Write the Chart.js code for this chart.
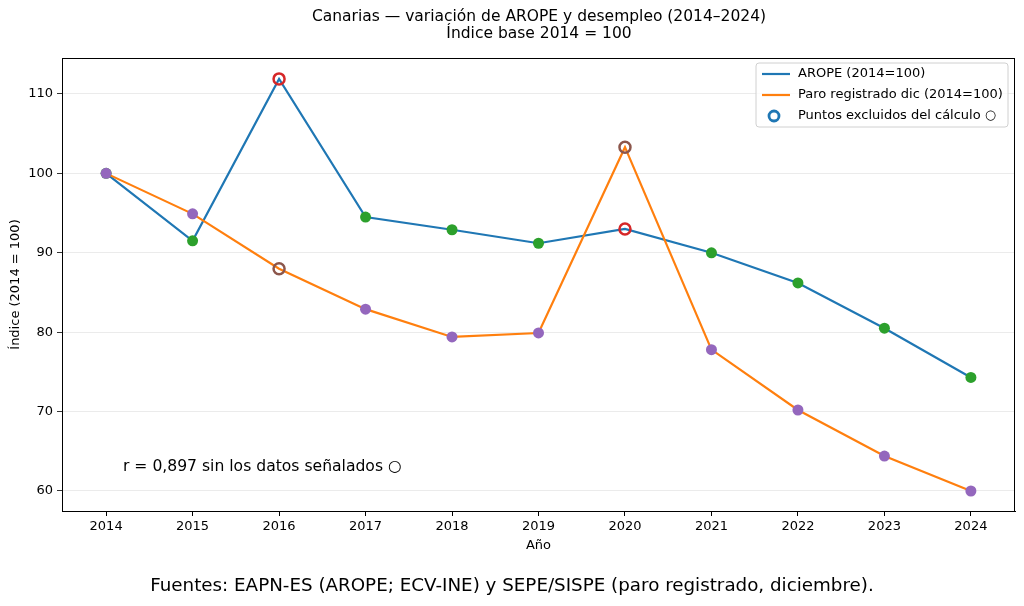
<!DOCTYPE html>
<html>
<head>
<meta charset="utf-8">
<script src="https://cdn.jsdelivr.net/npm/chart.js@4"></script>
<style>
  body { margin: 0; background: #fff; }
  #wrap { width: 1024px; height: 606px; position: relative; }
</style>
</head>
<body>
<div id="wrap"><canvas id="myChart"></canvas></div>
<script>
'use strict'

// data
const years = [2014, 2015, 2016, 2017, 2018, 2019, 2020, 2021, 2022, 2023, 2024];
const arope = [100, 91.5, 111.9, 94.5, 92.9, 91.2, 93.0, 90.0, 86.2, 80.5, 74.3];
const paro = [100, 94.9, 88.0, 82.9, 79.4, 79.9, 103.3, 77.8, 70.2, 64.4, 60.0];
const aropeExcluded = [2016, 2020];
const paroExcluded = [2016, 2020];
const yTicks = [60, 70, 80, 90, 100, 110];

const titleLines = ['Canarias — variación de AROPE y desempleo (2014–2024)', 'Índice base 2014 = 100'];
const legendLabels = ['AROPE (2014=100)', 'Paro registrado dic (2014=100)', 'Puntos excluidos del cálculo ○'];
const noteText = 'r = 0,897 sin los datos señalados ○';
const sourceText = 'Fuentes: EAPN-ES (AROPE; ECV-INE) y SEPE/SISPE (paro registrado, diciembre).';

const BLUE = '#1f77b4', ORANGE = '#ff7f0e', GREEN = '#2ca02c', PURPLE = '#9467bd', RED = '#d62728', BROWN = '#8c564b';
const FONT = '"DejaVu Sans", sans-serif';

function toPoints(vals) {
  return years.map((y, i) => ({ x: y, y: vals[i] }));
}

// marker styles per point (open circle for excluded years)
function markerFill(excl, col) {
  return years.map(y => excl.includes(y) ? 'rgba(0,0,0,0)' : col);
}
function markerBorder(excl, col, openCol) {
  return years.map(y => excl.includes(y) ? openCol : col);
}
function markerBorderWidth(excl) {
  return years.map(y => excl.includes(y) ? 2.5 : 0);
}

// titles, frame, legend box, notes
const extras = {
  id: 'extras',
  afterDraw(chart) {
    const c = chart.ctx;
    const a = chart.chartArea;
    c.save();
    // full frame
    c.strokeStyle = '#000';
    c.lineWidth = 1;
    c.strokeRect(a.left + 0.5, a.top + 0.5, a.right - a.left - 1, a.bottom - a.top);

    c.fillStyle = '#000';
    c.textAlign = 'center';
    c.textBaseline = 'middle';
    c.font = '15.5px ' + FONT;
    c.fillText(titleLines[0], 539, 17);
    c.fillText(titleLines[1], 539, 34);

    c.font = '18.3px ' + FONT;
    c.fillText(sourceText, 512, 586);

    c.textAlign = 'left';
    c.font = '15.6px ' + FONT;
    c.fillText(noteText, 123, 467);

    // legend
    const bx = 756, by = 63, bw = 252, bh = 64;
    c.beginPath();
    c.roundRect(bx, by, bw, bh, 3);
    c.fillStyle = 'rgba(255,255,255,0.8)';
    c.fill();
    c.strokeStyle = '#d0d0d0';
    c.lineWidth = 1;
    c.stroke();

    const rows = [74, 95, 116];
    c.lineWidth = 2.2;
    c.strokeStyle = BLUE;
    c.beginPath(); c.moveTo(762, rows[0]); c.lineTo(790, rows[0]); c.stroke();
    c.strokeStyle = ORANGE;
    c.beginPath(); c.moveTo(762, rows[1]); c.lineTo(790, rows[1]); c.stroke();
    c.strokeStyle = BLUE;
    c.lineWidth = 2.8;
    c.beginPath(); c.arc(774, rows[2], 5, 0, Math.PI * 2); c.stroke();

    c.fillStyle = '#000';
    c.font = '13px ' + FONT;
    legendLabels.forEach((t, i) => c.fillText(t, 798, rows[i]));
    c.restore();
  }
};

const ctx = document.getElementById('myChart').getContext('2d');
const myChart = new Chart(ctx, {
  type: 'line',
  data: {
    datasets: [
      {
        label: legendLabels[0],
        data: toPoints(arope),
        borderColor: BLUE,
        borderWidth: 2.2,
        pointRadius: 0,
        order: 3,
      },
      {
        label: legendLabels[1],
        data: toPoints(paro),
        borderColor: ORANGE,
        borderWidth: 2.2,
        pointRadius: 0,
        order: 2,
      },
      {
        type: 'scatter',
        label: 'arope markers',
        data: toPoints(arope),
        pointRadius: 5.5,
        pointBackgroundColor: markerFill(aropeExcluded, GREEN),
        pointBorderColor: markerBorder(aropeExcluded, GREEN, RED),
        pointBorderWidth: markerBorderWidth(aropeExcluded),
        order: 1,
      },
      {
        type: 'scatter',
        label: 'paro markers',
        data: toPoints(paro),
        pointRadius: 5.5,
        pointBackgroundColor: markerFill(paroExcluded, PURPLE),
        pointBorderColor: markerBorder(paroExcluded, PURPLE, BROWN),
        pointBorderWidth: markerBorderWidth(paroExcluded),
        order: 0,
      },
    ],
  },
  options: {
    responsive: true,
    maintainAspectRatio: false,
    animation: false,
    layout: { padding: { left: 0, right: 9, top: 58, bottom: 50 } },
    scales: {
      x: {
        type: 'linear',
        min: 2013.49,
        max: 2024.51,
        afterBuildTicks: scale => { scale.ticks = years.map(v => ({ value: v })); },
        afterFit: scale => { scale.height = 45; },
        grid: { drawOnChartArea: false, tickColor: '#000', tickLength: 5 },
        border: { color: '#000' },
        ticks: { color: '#000', font: { family: FONT, size: 13 }, padding: 3, maxRotation: 0, callback: v => String(v) },
        title: { display: true, text: 'Año', color: '#000', font: { family: FONT, size: 13 }, padding: { top: 0, bottom: 3 } },
      },
      y: {
        min: 57.48,
        max: 114.53,
        afterBuildTicks: scale => { scale.ticks = yTicks.map(v => ({ value: v })); },
        afterFit: scale => { scale.width = 62; },
        grid: { color: '#e6e6e6', lineWidth: 0.8, tickColor: '#000', tickLength: 5 },
        border: { color: '#000' },
        ticks: { color: '#000', font: { family: FONT, size: 13 }, padding: 4 },
        title: { display: true, text: 'Índice (2014 = 100)', color: '#000', font: { family: FONT, size: 13 }, padding: { top: 8, bottom: 0 } },
      },
    },
    plugins: {
      legend: { display: false },
      tooltip: { enabled: false },
      title: { display: false },
    },
  },
  plugins: [extras],
});
</script>
</body>
</html>
